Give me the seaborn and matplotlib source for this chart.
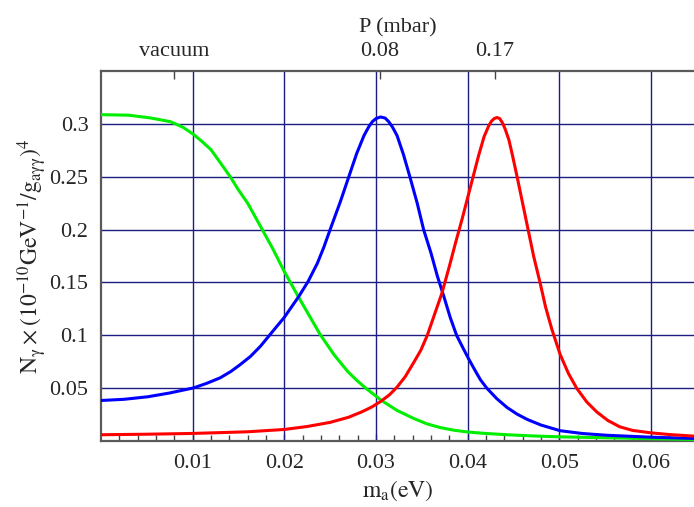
import matplotlib
matplotlib.use("Agg")
import matplotlib.pyplot as plt
import numpy as np
import pandas as pd
import seaborn as sns

# axion mass (eV) and photon counts
m_vacuum = [0.0, 0.003, 0.0054, 0.0076, 0.009, 0.0101, 0.011, 0.012, 0.013, 0.0141,
            0.015, 0.016, 0.0168, 0.0176, 0.0188, 0.0199, 0.0215, 0.0227, 0.0239,
            0.0254, 0.0269, 0.0279, 0.0289, 0.0306, 0.0323, 0.0341, 0.0355, 0.037,
            0.0385, 0.0401, 0.042, 0.0443, 0.047, 0.0501, 0.056, 0.0647]
n_vacuum = [0.3087, 0.3082, 0.3056, 0.302, 0.2965, 0.290, 0.2835, 0.2756, 0.2635, 0.25,
            0.2375, 0.225, 0.2125, 0.2, 0.181, 0.162, 0.137, 0.119, 0.101,
            0.082, 0.066, 0.0575, 0.05, 0.0385, 0.029, 0.0215, 0.0165, 0.0128,
            0.0103, 0.0085, 0.0072, 0.006, 0.0049, 0.004, 0.003, 0.0015]

m_p008 = [0.0, 0.0025, 0.0051, 0.0075, 0.0101, 0.0115, 0.013, 0.0142, 0.0152, 0.0163,
          0.0174, 0.0189, 0.02, 0.0216, 0.0226, 0.0236, 0.0243, 0.025, 0.0261, 0.027,
          0.0279, 0.0287, 0.0292, 0.0296, 0.03, 0.0305, 0.031, 0.0314, 0.0318, 0.0323,
          0.033, 0.0337, 0.0345, 0.0352, 0.036, 0.0367, 0.0374, 0.0381, 0.0388,
          0.0395, 0.0401, 0.0408, 0.0414, 0.0421, 0.0432, 0.0443, 0.0454, 0.0465,
          0.048, 0.0501, 0.0525, 0.0552, 0.06, 0.0647]
n_p008 = [0.0384, 0.0395, 0.0419, 0.0455, 0.0503, 0.0545, 0.0598, 0.066, 0.0724, 0.080,
          0.0897, 0.1055, 0.117, 0.137, 0.151, 0.168, 0.183, 0.2, 0.226, 0.249,
          0.272, 0.289, 0.297, 0.302, 0.305, 0.3065, 0.3055, 0.302, 0.297, 0.289,
          0.271, 0.25, 0.225, 0.2, 0.178, 0.156, 0.137, 0.117, 0.1,
          0.088, 0.078, 0.067, 0.058, 0.05, 0.04, 0.0318, 0.0255, 0.0205,
          0.0152, 0.0098, 0.0072, 0.0055, 0.0037, 0.0025]

m_p017 = [0.0, 0.005, 0.0098, 0.013, 0.016, 0.02, 0.0225, 0.025, 0.027, 0.0285,
          0.0296, 0.0306, 0.0315, 0.0323, 0.0332, 0.0341, 0.0349, 0.0356, 0.0364,
          0.0372, 0.038, 0.0387, 0.0394, 0.04, 0.0406, 0.0412, 0.0418, 0.0423,
          0.0426, 0.0429, 0.0432, 0.0435, 0.0438, 0.0441, 0.0445, 0.0449, 0.0454,
          0.046, 0.0466, 0.0472, 0.0479, 0.0485, 0.0492, 0.0501, 0.051, 0.0519,
          0.053, 0.0541, 0.0553, 0.0566, 0.058, 0.06, 0.062, 0.0647]
n_p017 = [0.006, 0.0065, 0.0072, 0.008, 0.0088, 0.011, 0.0138, 0.0177, 0.0225, 0.0278,
          0.0325, 0.038, 0.044, 0.051, 0.061, 0.074, 0.086, 0.1, 0.12,
          0.14, 0.165, 0.188, 0.21, 0.23, 0.25, 0.27, 0.288, 0.298,
          0.3025, 0.305, 0.306, 0.305, 0.301, 0.295, 0.285, 0.27, 0.25,
          0.225, 0.2, 0.175, 0.15, 0.127, 0.1055, 0.0818, 0.064, 0.05,
          0.037, 0.0275, 0.0195, 0.0135, 0.0101, 0.0078, 0.0062, 0.0047]

x_ticks = [0.01, 0.02, 0.03, 0.04, 0.05, 0.06]
x_labels = ["0.01", "0.02", "0.03", "0.04", "0.05", "0.06"]
y_ticks = [0.05, 0.1, 0.15, 0.2, 0.25, 0.3]
y_labels = ["0.05", "0.1", "0.15", "0.2", "0.25", "0.3"]
p_ticks = [0.008, 0.0304, 0.043]
p_labels = ["vacuum", "0.08", "0.17"]

df = pd.concat([
    pd.DataFrame({"m": m_vacuum, "n": n_vacuum, "P": "vacuum"}),
    pd.DataFrame({"m": m_p008, "n": n_p008, "P": "0.08"}),
    pd.DataFrame({"m": m_p017, "n": n_p017, "P": "0.17"}),
])

sns.set_style("white")
plt.rcParams["font.family"] = ["Liberation Serif", "DejaVu Serif"]
plt.rcParams["mathtext.fontset"] = "stix"

fig = plt.figure(figsize=(6.94, 5.07), dpi=100)
ax = fig.add_axes([0.1455, 0.130, 0.8545, 0.730])

grid_col = "#1e1e82"
for x in x_ticks:
    ax.axvline(x, color=grid_col, lw=1.0, zorder=1)
for y in y_ticks:
    ax.axhline(y, color=grid_col, lw=1.0, zorder=1)

sns.lineplot(data=df, x="m", y="n", hue="P", sort=False, estimator=None,
             palette={"vacuum": "#00ee00", "0.08": "#0000ff", "0.17": "#ff0000"},
             lw=2.2, legend=False, ax=ax, zorder=3)

ax.set_xlim(0, 0.0647)
ax.set_ylim(0, 0.35)
ax.set_xticks(x_ticks)
ax.set_xticklabels(x_labels)
ax.set_yticks(y_ticks)
ax.set_yticklabels(y_labels)
ax.set_xticks(np.arange(0.002, 0.0647, 0.002), minor=True)
ax.set_yticks(np.arange(0.01, 0.35, 0.01), minor=True)
ax.tick_params(which="both", direction="in", color="#444444", labelsize=16, pad=9,
               top=False, right=False)
ax.tick_params(which="major", length=5, width=1)
ax.tick_params(which="minor", length=4, width=1)

ax.set_xlabel(r"$\mathrm{m_a(eV)}$", fontsize=17, labelpad=4)
ax.set_ylabel(r"$\mathrm{N_\gamma\times(10^{-10}GeV^{-1}/g_{a\gamma\gamma})^4}$",
              fontsize=17, labelpad=0)

for side in ["left", "bottom", "top"]:
    ax.spines[side].set_color("#5a5a5a")
    ax.spines[side].set_linewidth(1.6)
ax.spines["right"].set_visible(False)

ax2 = ax.twiny()
ax2.set_xlim(ax.get_xlim())
ax2.set_xticks(p_ticks)
ax2.set_xticklabels(p_labels)
ax2.tick_params(direction="in", length=6, width=1, color="#444444", labelsize=16, pad=7)
ax2.set_xlabel("P (mbar)", fontsize=16, labelpad=7)
for s in ax2.spines.values():
    s.set_visible(False)

fig.savefig("out.png", dpi=100)
